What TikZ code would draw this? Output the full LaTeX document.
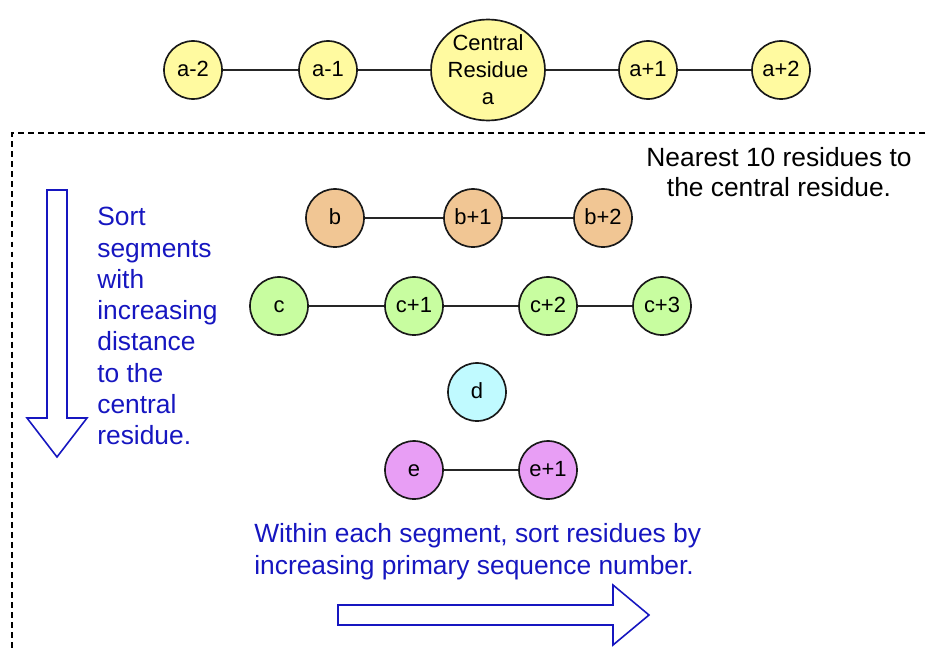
\documentclass[tikz,border=0pt]{standalone}
\usepackage{fontspec}
\setmainfont{Liberation Sans}
\usetikzlibrary{shapes.geometric,shapes.arrows}
\definecolor{resyellow}{RGB}{255,250,160}
\definecolor{restan}{RGB}{241,198,148}
\definecolor{resgreen}{RGB}{200,253,160}
\definecolor{rescyan}{RGB}{192,250,255}
\definecolor{respurple}{RGB}{232,158,245}
\definecolor{noteblue}{RGB}{22,22,192}
\newlength{\pxu}
\setlength{\pxu}{0.02cm}
\tikzset{
  res/.style={circle, draw=black!90, line width=0.95pt, minimum size=58\pxu, inner sep=0pt,
              text height=0.716em, text depth=0pt,
              font=\fontsize{12.5}{14}\selectfont},
  link/.style={draw=black!85, line width=0.8pt},
  note/.style={text=noteblue, font=\fontsize{15}{17.8}\selectfont, inner sep=0pt},
  bigarrow/.style={draw=noteblue, line width=0.9pt, fill=white},
}
\begin{document}
\begin{tikzpicture}[x=0.02cm, y=-0.02cm]
\useasboundingbox (0,0) rectangle (928,649);

% central chain
\node[res, fill=resyellow] (am2) at (193,70) {a-2};
\node[res, fill=resyellow] (am1) at (328,70) {a-1};
\node[ellipse, draw=black!90, line width=0.95pt, fill=resyellow, minimum width=112\pxu,
      minimum height=101\pxu, inner sep=0pt, align=center,
      font=\fontsize{12.5}{15.3}\selectfont] (a) at (488,70) {Central\\Residue\\a};
\node[res, fill=resyellow] (ap1) at (648,70) {a+1};
\node[res, fill=resyellow] (ap2) at (781,70) {a+2};
\draw[link] (am2) -- (am1) (am1) -- (a) (a) -- (ap1) (ap1) -- (ap2);

% neighbourhood frame (open to the right and bottom)
\coordinate (frameTR) at (935,133);
\coordinate (frameTL) at (12,133);
\coordinate (frameBL) at (12,660);
\draw[black, line width=0.8pt, dash pattern=on 3.4pt off 2.3pt] (frameTR) -- (frameTL) -- (frameBL);

\node[inner sep=0pt, align=center, font=\fontsize{15}{17.2}\selectfont, anchor=north] (title) at (779,147)
  {Nearest 10 residues to\\the central residue.};

% segment b
\node[res, fill=restan] (b) at (335,218) {b};
\node[res, fill=restan] (b1) at (473,218) {b+1};
\node[res, fill=restan] (b2) at (603,218) {b+2};
\draw[link] (b) -- (b1) (b1) -- (b2);

% segment c
\node[res, fill=resgreen] (c) at (279,306) {c};
\node[res, fill=resgreen] (c1) at (414,306) {c+1};
\node[res, fill=resgreen] (c2) at (548,306) {c+2};
\node[res, fill=resgreen] (c3) at (662,306) {c+3};
\draw[link] (c) -- (c1) (c1) -- (c2) (c2) -- (c3);

% segment d
\node[res, fill=rescyan] (d) at (477,392) {d};

% segment e
\node[res, fill=respurple] (e) at (414,470) {e};
\node[res, fill=respurple] (e1) at (548,470) {e+1};
\draw[link] (e) -- (e1);

% sorting notes
\node[note, align=left, anchor=north west] (sortseg) at (97,207)
  {Sort\\segments\\with\\increasing\\distance\\to the\\central\\residue.};
\node[note, align=left, anchor=north west, font=\fontsize{15}{18.1}\selectfont] (sortres) at (254,523)
  {Within each segment, sort residues by\\increasing primary sequence number.};

% outline arrows
\draw[bigarrow] (47,190) -- (67,190) -- (67,418) -- (87,418) -- (57,457) -- (27,418) -- (47,418) -- cycle;
\draw[bigarrow] (338,605) -- (613,605) -- (613,585) -- (649,615) -- (613,645) -- (613,625) -- (338,625) -- cycle;
\end{tikzpicture}
\end{document}
